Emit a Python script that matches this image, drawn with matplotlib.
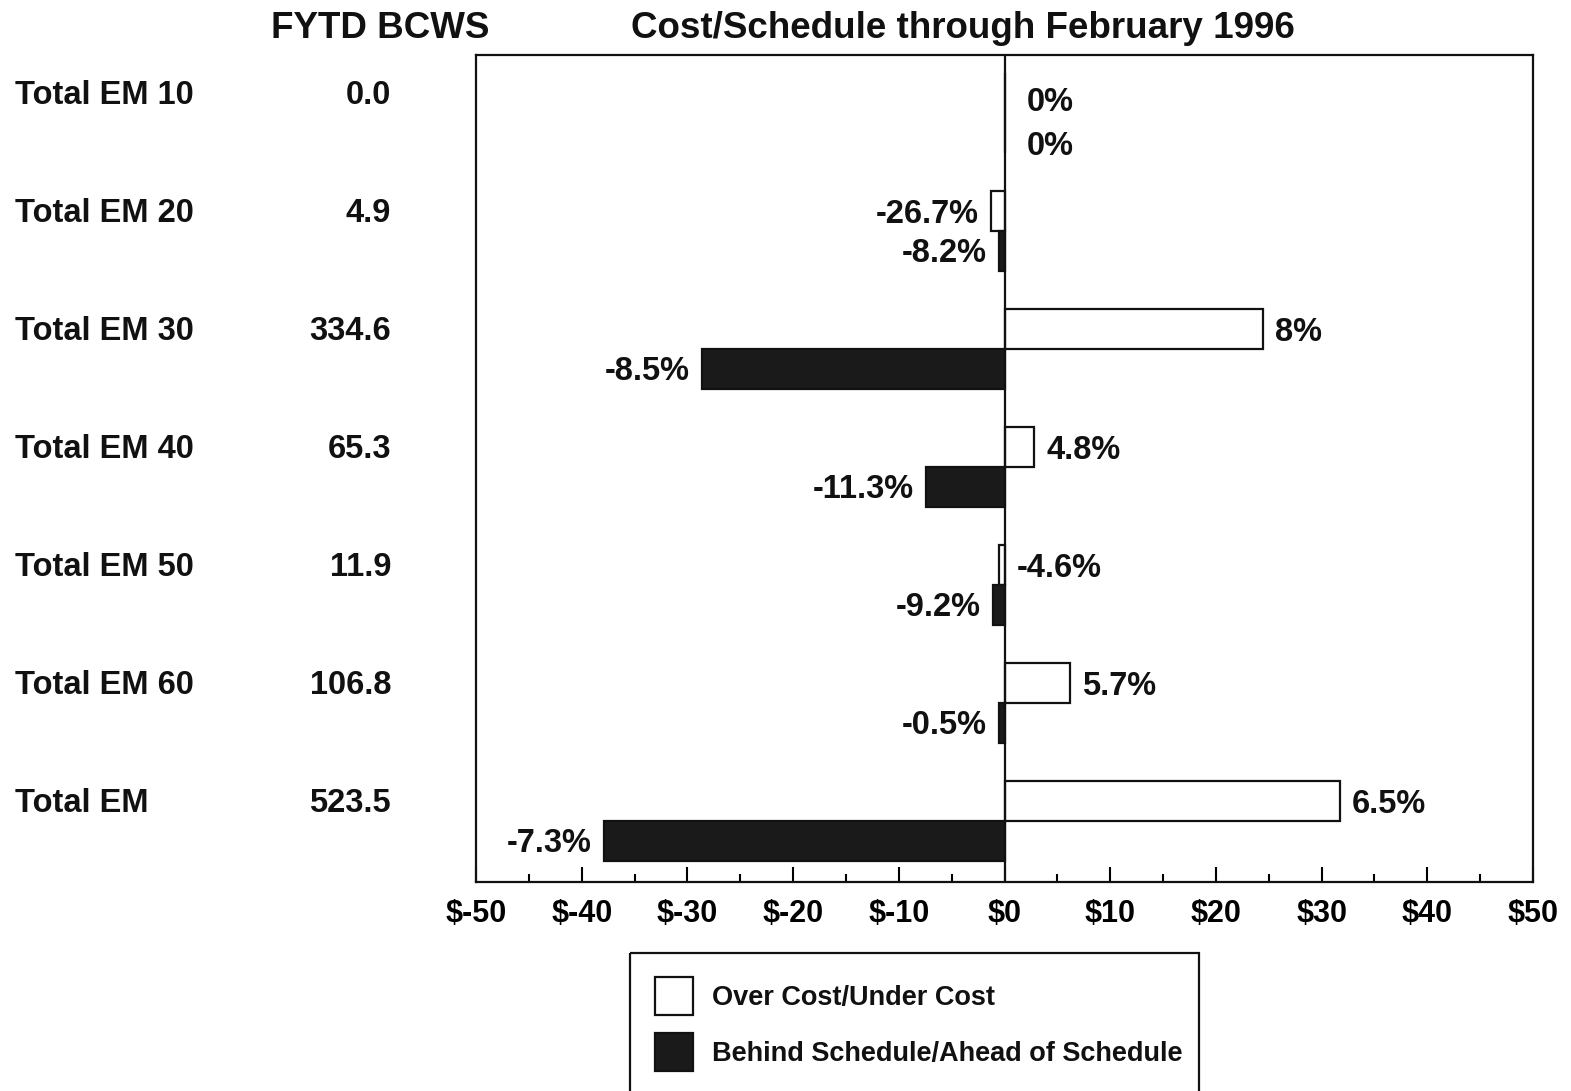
import matplotlib.pyplot as plt
import matplotlib.transforms as mtransforms
from matplotlib.patches import Rectangle
from matplotlib.ticker import MultipleLocator, FuncFormatter

# data
rows = ["Total EM 10", "Total EM 20", "Total EM 30", "Total EM 40",
        "Total EM 50", "Total EM 60", "Total EM"]
bcws = ["0.0", "4.9", "334.6", "65.3", "11.9", "106.8", "523.5"]
cost_var = [0.0, -1.3, 24.5, 2.8, -0.5, 6.2, 31.7]
sched_var = [0.0, -0.5, -28.6, -7.4, -1.1, -0.5, -37.9]
cost_pct = ["0%", "-26.7%", "8%", "4.8%", "-4.6%", "5.7%", "6.5%"]
sched_pct = ["0%", "-8.2%", "-8.5%", "-11.3%", "-9.2%", "-0.5%", "-7.3%"]
cost_side = ["right", "left", "right", "right", "right", "right", "right"]
sched_side = ["right", "left", "left", "left", "left", "left", "left"]

plt.rcParams['font.family'] = 'Liberation Sans'
plt.rcParams['font.weight'] = 'bold'
W, H = 1571, 1091
fig = plt.figure(figsize=(W / 100, H / 100), dpi=100)
ax = fig.add_axes([476 / W, 1 - 882 / H, 1057 / W, 827 / H])

bh = 0.34
ypos = list(range(len(rows)))
yc = [y - bh / 2 for y in ypos]
ys = [y + bh / 2 for y in ypos]
ax.barh(yc, cost_var, height=bh, color='white', edgecolor='#111111', linewidth=1.6)
ax.barh(ys, sched_var, height=bh, color='#1a1a1a', edgecolor='#111111', linewidth=1.6)
ax.axvline(0, color='#111111', linewidth=1.6)

ax.set_xlim(-50, 50)
ax.set_ylim(6.52, -0.49)
ax.set_yticks([])
ax.xaxis.set_major_locator(MultipleLocator(10))
ax.xaxis.set_minor_locator(MultipleLocator(5))
ax.xaxis.set_major_formatter(FuncFormatter(lambda v, p: "$%d" % v))
ax.tick_params(axis='x', which='major', direction='in', length=11, width=1.5,
               labelsize=22, pad=12, top=False)
ax.tick_params(axis='x', which='minor', direction='in', length=6, width=1.5, top=False)
for s in ax.spines.values():
    s.set_linewidth(1.6)
    s.set_color('#111111')

lbl = dict(fontsize=23.5, fontweight='bold', va='center', color='#111111')
for i in range(len(rows)):
    if cost_side[i] == "right":
        gap = 22 if cost_var[i] == 0 else 12
        ax.annotate(cost_pct[i], (max(cost_var[i], 0), yc[i]), xytext=(gap, -4 - (6 if cost_var[i] == 0 else 0)),
                    textcoords='offset pixels', ha='left', **lbl)
    else:
        ax.annotate(cost_pct[i], (min(cost_var[i], 0), yc[i]), xytext=(-12, -4),
                    textcoords='offset pixels', ha='right', **lbl)
    if sched_side[i] == "right":
        ax.annotate(sched_pct[i], (max(sched_var[i], 0), ys[i]), xytext=(22, -14),
                    textcoords='offset pixels', ha='left', **lbl)
    else:
        ax.annotate(sched_pct[i], (min(sched_var[i], 0), ys[i]), xytext=(-12, -3),
                    textcoords='offset pixels', ha='right', **lbl)

# row labels and BCWS column, left of the plot
tr = mtransforms.blended_transform_factory(fig.transFigure, ax.transData)
tr = tr + mtransforms.ScaledTranslation(0, -3 / 100, fig.dpi_scale_trans)
for i in range(len(rows)):
    fig.text(15 / W, yc[i], rows[i], transform=tr, ha='left', **lbl)
    fig.text(391 / W, yc[i], bcws[i], transform=tr, ha='right', **lbl)

hdr = dict(fontsize=26.5, fontweight='bold', va='center', color='#111111')
fig.text(380 / W, 1 - 28 / H, "FYTD BCWS", ha='center', **hdr)
fig.text(963 / W, 1 - 28 / H, "Cost/Schedule through February 1996", ha='center', **hdr)

# legend box (cut off at bottom edge in the original)
lax = fig.add_axes([0, 0, 1, 1], zorder=-1)
lax.set_xlim(0, W)
lax.set_ylim(H, 0)
lax.axis('off')
lax.add_patch(Rectangle((630, 953), 569, 160, facecolor='none', edgecolor='#111111', linewidth=1.6))
lax.add_patch(Rectangle((655, 977), 38, 38, facecolor='white', edgecolor='#111111', linewidth=1.6))
lax.add_patch(Rectangle((655, 1033), 38, 38, facecolor='#1a1a1a', edgecolor='#111111', linewidth=1.6))
lax.text(712, 998, "Over Cost/Under Cost", fontsize=19.5, fontweight='bold', va='center', color='#111111')
lax.text(712, 1054, "Behind Schedule/Ahead of Schedule", fontsize=19.5, fontweight='bold',
         va='center', color='#111111')

fig.savefig("out.png", dpi=100)
